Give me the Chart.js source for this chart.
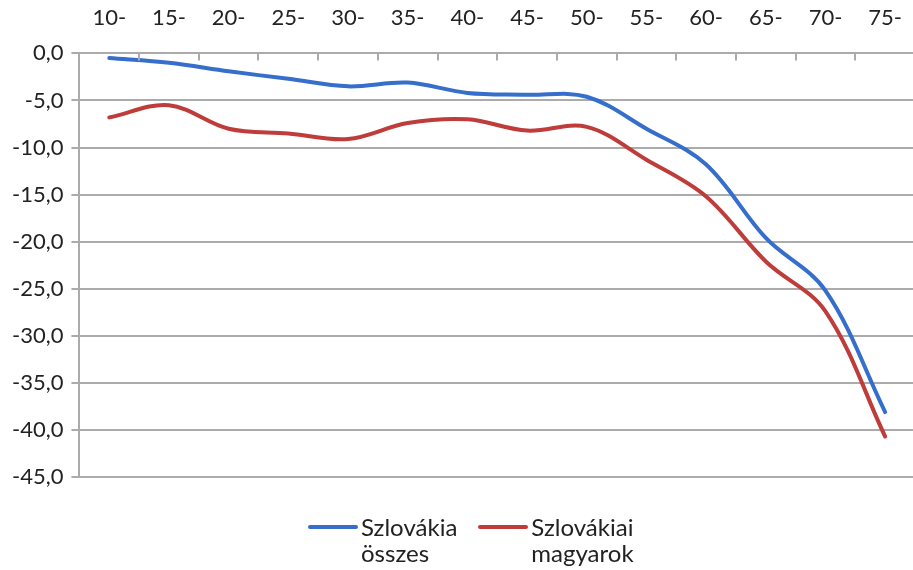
<!DOCTYPE html>
<html>
<head>
<meta charset="utf-8">
<script src="https://cdn.jsdelivr.net/npm/chart.js@4"></script>
<style>
  html, body { margin: 0; padding: 0; background: #fff; overflow: hidden; }
  #wrap { position: relative; width: 913px; height: 570px; overflow: hidden; }
  #legend { position: absolute; left: 308px; top: 514px; display: flex; gap: 21px;
            font-family: Lato, sans-serif; font-size: 24px; line-height: 26px; color: #222; }
  .item { display: flex; align-items: flex-start; }
  .swatch { width: 50px; height: 4px; border-radius: 2px; margin: 11px 3px 0 0; }
</style>
</head>
<body>
<div id="wrap">
  <canvas id="chart" width="924" height="570"></canvas>
  <div id="legend"></div>
</div>
<script>
const ageGroups = ["10-", "15-", "20-", "25-", "30-", "35-", "40-", "45-", "50-", "55-", "60-", "65-", "70-", "75-"];
const slovakiaAll = [-0.5, -1.0, -1.9, -2.7, -3.5, -3.1, -4.2, -4.4, -4.6, -8.0, -11.8, -19.6, -25.2, -38.1];
const slovakiaHungarians = [-6.8, -5.5, -8.0, -8.5, -9.1, -7.4, -7.0, -8.2, -7.8, -11.3, -15.2, -22.1, -27.4, -40.7];
const seriesNames = [["Szlovákia", "összes"], ["Szlovákiai", "magyarok"]];

const blue = "rgb(53, 110, 203)";
const red = "rgb(190, 60, 58)";
const gridGray = "#ababab";
const font = { family: "Lato", size: 22 };

// short tick marks pointing down from the top axis, at category boundaries
const topTicks = {
    id: "topTicks",
    afterDraw(chart) {
        const x = chart.scales.x, y = chart.scales.y;
        const ctx = chart.ctx;
        const y0 = y.getPixelForValue(0);
        ctx.save();
        ctx.strokeStyle = gridGray;
        ctx.lineWidth = 2;
        ctx.beginPath();
        for (let i = 0; i <= ageGroups.length; i++) {
            const px = Math.round(x.getPixelForValue(i - 0.5));
            ctx.moveTo(px, y0);
            ctx.lineTo(px, y0 + 7);
        }
        ctx.stroke();
        ctx.restore();
    }
};

// two-line legend, built from the chart's datasets
const htmlLegend = {
    id: "htmlLegend",
    afterUpdate(chart) {
        const box = document.getElementById("legend");
        box.innerHTML = "";
        chart.data.datasets.forEach(ds => {
            const el = document.createElement("div");
            el.className = "item";
            const sw = document.createElement("span");
            sw.className = "swatch";
            sw.style.background = ds.borderColor;
            const txt = document.createElement("span");
            txt.innerHTML = ds.label.join("<br>");
            el.appendChild(sw);
            el.appendChild(txt);
            box.appendChild(el);
        });
    }
};

new Chart(document.getElementById("chart"), {
    type: "line",
    data: {
        labels: ageGroups,
        datasets: [
            {
                label: seriesNames[0],
                data: slovakiaAll,
                borderColor: blue,
                borderWidth: 4,
                tension: 0.35,
                pointRadius: 0,
                borderCapStyle: "round"
            },
            {
                label: seriesNames[1],
                data: slovakiaHungarians,
                borderColor: red,
                borderWidth: 4,
                tension: 0.35,
                pointRadius: 0,
                borderCapStyle: "round"
            }
        ]
    },
    options: {
        responsive: false,
        animation: false,
        layout: { padding: { top: -17, right: 0, bottom: 93, left: 4 } },
        plugins: {
            tooltip: { enabled: false },
            legend: { display: false }
        },
        scales: {
            x: {
                position: "top",
                offset: true,
                border: { display: true, color: gridGray, width: 2 },
                grid: { display: false, tickLength: 0 },
                ticks: { font: font, color: "#222", padding: 22, maxRotation: 0 }
            },
            y: {
                min: -45,
                max: 0,
                border: { color: gridGray, width: 2 },
                grid: { color: gridGray, lineWidth: 2, tickLength: 8 },
                ticks: {
                    stepSize: 5,
                    font: font,
                    color: "#222",
                    padding: 8,
                    callback: v => (v === 0 ? 0 : v).toFixed(1).replace(".", ",")
                }
            }
        }
    },
    plugins: [topTicks, htmlLegend]
});
</script>
</body>
</html>
